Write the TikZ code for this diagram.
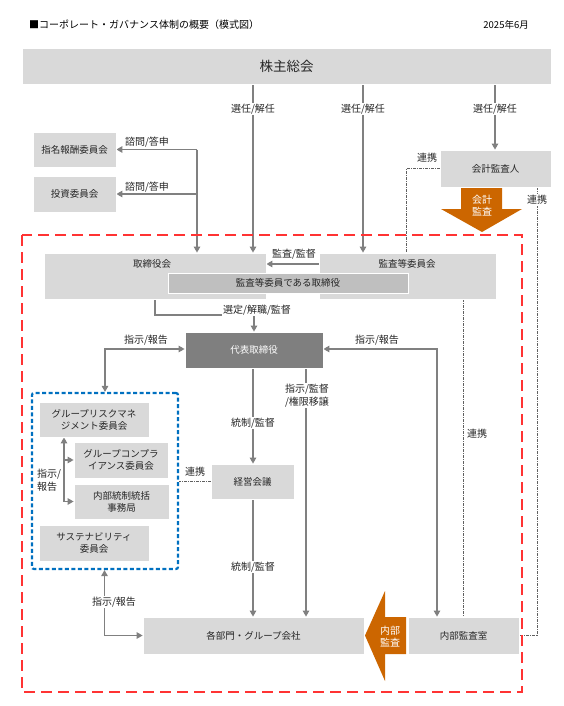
\documentclass[tikz,border=0pt]{standalone}
\usepackage{fontspec}
\setmainfont{Noto Sans CJK JP}
\usetikzlibrary{arrows.meta,backgrounds}
\definecolor{boxgray}{HTML}{D9D9D9}
\definecolor{darkbox}{HTML}{7F7F7F}
\definecolor{midbox}{HTML}{BFBFBF}
\definecolor{linegray}{HTML}{808080}
\definecolor{ddgray}{HTML}{606060}
\definecolor{txt}{HTML}{262626}
\definecolor{dashred}{RGB}{255,51,51}
\definecolor{dashblue}{HTML}{0070C0}
\definecolor{orangearr}{RGB}{204,102,0}
\begin{document}
\begin{tikzpicture}[x=1pt,y=-1pt,
  box/.style={fill=boxgray, draw=white, line width=0.8pt, inner sep=0pt, align=center, text=txt, font=\fontsize{9.5}{12}\selectfont},
  plain/.style={inner sep=0pt, align=center, text=txt, font=\fontsize{9.5}{12}\selectfont},
  lab/.style={fill=white, inner sep=1pt, text=txt, font=\fontsize{10}{12.5}\selectfont, align=center},
  conn/.style={draw=linegray, line width=1.3pt},
  arr/.style={conn, -{Triangle[length=6pt,width=6.5pt]}},
  darr/.style={conn, {Triangle[length=6pt,width=6.5pt]}-{Triangle[length=6pt,width=6.5pt]}},
  ddot/.style={draw=ddgray, line width=1pt, dash pattern=on 3pt off 1pt on 1pt off 1pt},
  reddash/.style={draw=dashred, line width=1.5pt, dash pattern=on 11pt off 6pt},
  bluebox/.style={draw=dashblue, line width=2.2pt, dash pattern=on 4pt off 2.5pt, rounded corners=2pt, inner sep=0pt},
  orangetext/.style={text=white, inner sep=0pt, align=center, font=\fontsize{10}{12}\selectfont},
  ]
\useasboundingbox (0,0) rectangle (563,706);

% title
\node[plain, anchor=west, font=\fontsize{10}{12}\selectfont, text=black] (title) at (29,25) {■コーポレート・ガバナンス体制の概要（模式図）};
\node[plain, anchor=east, text=black] (date) at (529,25) {2025年6月};

% red dashed frame
\draw[reddash] (22,235) rectangle (522,692);

% boxes
\node[box, minimum width=529pt, minimum height=36pt, font=\fontsize{13.5}{16}\selectfont] (sokai) at (286.5,66) {株主総会};
\node[box, minimum width=83pt, minimum height=35pt] (shimei) at (74.5,149.5) {指名報酬委員会};
\node[box, minimum width=83pt, minimum height=36pt] (toushi) at (74.5,194) {投資委員会};
\node[box, minimum width=111pt, minimum height=37pt] (kaikei) at (495.5,168.5) {会計監査人};
\node[box, minimum width=222pt, minimum height=46pt] (torishimari) at (155,276) {};
\node[box, minimum width=177pt, minimum height=46pt] (kansa) at (407.5,276) {};
\node[plain] (torishimari-t) at (152,264) {取締役会};
\node[plain] (kansa-t) at (407,264) {監査等委員会};
\node[box, fill=midbox, minimum width=240pt, minimum height=20pt] (inner) at (288,283) {監査等委員である取締役};
\node[box, fill=darkbox, text=white, minimum width=138pt, minimum height=36pt] (daihyo) at (254,350) {代表取締役};
\node[bluebox, minimum width=146pt, minimum height=176pt] (blue) at (105,481) {};
\node[box, minimum width=110pt, minimum height=35pt] (risk) at (94,419.5) {グループリスクマネ\\ジメント委員会};
\node[box, minimum width=94pt, minimum height=36pt] (compl) at (121,460) {グループコンプラ\\イアンス委員会};
\node[box, minimum width=95pt, minimum height=35pt] (naibut) at (121.5,501.5) {内部統制統括\\事務局};
\node[box, minimum width=110pt, minimum height=36pt] (sustain) at (94,543) {サステナビリティ\\委員会};
\node[box, minimum width=83pt, minimum height=35pt] (keiei) at (252.5,481.5) {経営会議};
\node[box, minimum width=221pt, minimum height=37pt] (kakubu) at (253.5,635.5) {各部門・グループ会社};
\node[box, minimum width=111pt, minimum height=37pt] (naibukansa) at (463.5,635.5) {内部監査室};

% orange arrows
\fill[orangearr] (461,188) -- (502,188) -- (502,209) -- (522,209) -- (482,232) -- (441,209) -- (461,209) -- cycle;
\node[orangetext] (kaikeikansa) at (482,206) {会計\\監査};
\fill[orangearr] (406,617) -- (406,654) -- (385,654) -- (385,681) -- (365,635.5) -- (385,591) -- (385,617) -- cycle;
\node[orangetext] (naibukansa-a) at (390,637) {内部\\監査};

% labels
\node[lab] (sen1) at (253,109) {選任/解任};
\node[lab] (sen2) at (363,109) {選任/解任};
\node[lab] (sen3) at (495,109) {選任/解任};
\node[lab] (shimon1) at (147,142) {諮問/答申};
\node[lab] (shimon2) at (147,187) {諮問/答申};
\node[lab] (renkei1) at (427,158) {連携};
\node[lab] (renkei2) at (537,200) {連携};
\node[lab] (kanto) at (294,254) {監査/監督};
\node[lab] (sentei) at (257,310) {選定/解職/監督};
\node[lab] (shijiL) at (146,340) {指示/報告};
\node[lab] (shijiR) at (377,340) {指示/報告};
\node[lab] (shiji2) at (307,395.5) {指示/監督\\/権限移譲};
\node[lab] (tousei1) at (253,423) {統制/監督};
\node[lab] (tousei2) at (253,567) {統制/監督};
\node[lab] (renkei3) at (195,472) {連携};
\node[lab, align=left] (shijiI) at (49,480) {指示/\\報告};
\node[lab] (renkei4) at (477,434) {連携};
\node[lab] (shijiB) at (114,602) {指示/報告};

% connectors
\begin{scope}[on background layer]
\coordinate (sj) at (197,149.5);
\draw[arr] (sj) -- (sj |- torishimari.north);
\draw[arr] (sj) -- (shimei.east);
\draw[arr] (sj |- toushi.east) -- (toushi.east);
\draw[arr] (sokai.south -| sen1) -- (torishimari.north -| sen1);
\draw[arr] (sokai.south -| sen2) -- (kansa.north -| sen2);
\draw[arr] (sokai.south -| sen3) -- (kaikei.north -| sen3);
\draw[arr] (kansa-t -| kansa.west) -- (kansa-t -| torishimari.east);
\coordinate (sel) at (254,315);
\draw[arr] (torishimari.south) |- (sel) -- (sel |- daihyo.north);
\coordinate (lk) at (105,349);
\draw[darr] (blue.north -| lk) -- (lk) -- (lk -| daihyo.west);
\coordinate (rk) at (437,349);
\draw[darr] (daihyo.east |- rk) -- (rk) -- (rk |- naibukansa.north);
\coordinate (sk) at (306,0);
\draw[arr] (daihyo.south -| sk) -- (kakubu.north -| sk);
\coordinate (tk) at (253,0);
\draw[arr] (daihyo.south -| tk) -- (keiei.north -| tk);
\draw[arr] (keiei.south -| tk) -- (kakubu.north -| tk);
\draw[ddot] (keiei.west) -- (keiei.west -| blue.east);
\coordinate (ik) at (64,501.5);
\draw[arr] (ik) -- (ik |- risk.south);
\draw[arr] (ik |- compl.west) -- (compl.west);
\draw[arr] (ik) -- (naibut.west);
\coordinate (bk) at (104.5,635.5);
\draw[darr] (blue.south -| bk) -- (bk) -- (kakubu.west);
\coordinate (dk) at (406,0);
\draw[ddot] (kaikei.west) -| (dk |- kansa.north);
\draw[ddot] (kansa.south -| naibukansa.north) -- (naibukansa.north);
\coordinate (ek) at (537,0);
\draw[ddot] (kaikei.south -| ek) |- (naibukansa.east);
\end{scope}
\end{tikzpicture}
\end{document}
